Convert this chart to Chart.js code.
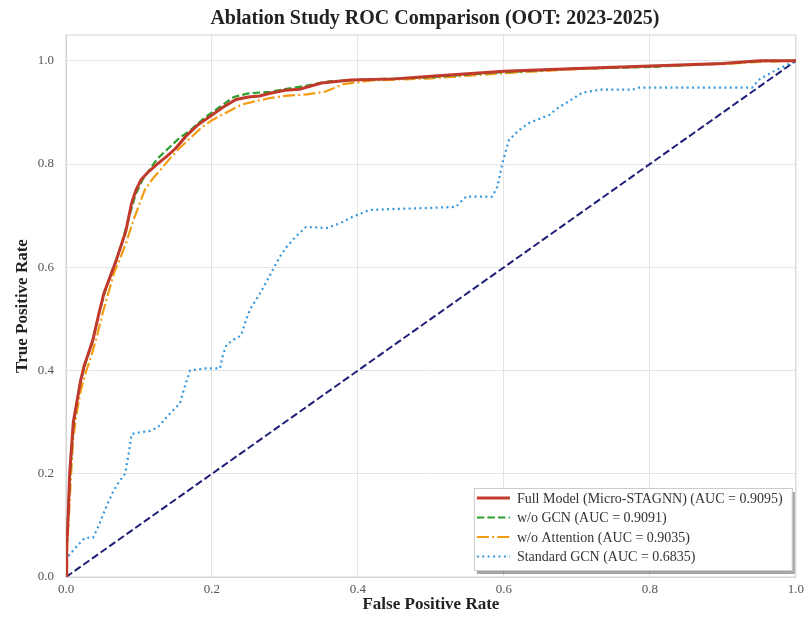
<!DOCTYPE html>
<html>
<head>
<meta charset="utf-8">
<script src="https://cdn.jsdelivr.net/npm/chart.js@4/dist/chart.umd.min.js"></script>
<style>
  html, body { margin: 0; background: #fff; }
  #wrap { width: 809px; height: 621px; }
</style>
</head>
<body>
<div id="wrap"><canvas id="rocChart"></canvas></div>
<script>
  // ROC curves
  const fullFpr = [0, 0.001, 0.003, 0.005, 0.008, 0.01, 0.015, 0.02, 0.025, 0.03, 0.037, 0.045, 0.052, 0.06, 0.068, 0.075, 0.082, 0.09, 0.096, 0.103, 0.113, 0.125, 0.138, 0.15, 0.165, 0.18, 0.2, 0.215, 0.233, 0.25, 0.265, 0.28, 0.3, 0.32, 0.35, 0.39, 0.45, 0.5, 0.55, 0.6, 0.7, 0.8, 0.9, 0.95, 1];
  const fullTpr = [0, 0.06, 0.12, 0.2, 0.26, 0.3, 0.34, 0.38, 0.41, 0.43, 0.46, 0.51, 0.55, 0.58, 0.61, 0.64, 0.67, 0.725, 0.75, 0.77, 0.785, 0.8, 0.815, 0.83, 0.855, 0.875, 0.895, 0.91, 0.925, 0.93, 0.932, 0.937, 0.943, 0.945, 0.957, 0.963, 0.965, 0.97, 0.975, 0.98, 0.985, 0.99, 0.995, 1, 1];

  const noGcnFpr = [0, 0.001, 0.003, 0.006, 0.01, 0.015, 0.02, 0.028, 0.035, 0.045, 0.055, 0.065, 0.075, 0.085, 0.095, 0.105, 0.115, 0.125, 0.14, 0.155, 0.17, 0.19, 0.21, 0.23, 0.25, 0.28, 0.3, 0.33, 0.36, 0.4, 0.5, 0.6, 0.7, 0.8, 0.9, 0.96, 1];
  const noGcnTpr = [0, 0.05, 0.13, 0.21, 0.29, 0.34, 0.38, 0.42, 0.45, 0.51, 0.56, 0.6, 0.64, 0.69, 0.74, 0.77, 0.79, 0.81, 0.83, 0.85, 0.865, 0.89, 0.91, 0.93, 0.937, 0.94, 0.945, 0.952, 0.96, 0.963, 0.968, 0.978, 0.985, 0.988, 0.995, 1, 1];

  const noAttFpr = [0, 0.001, 0.004, 0.007, 0.01, 0.015, 0.02, 0.028, 0.035, 0.043, 0.05, 0.058, 0.066, 0.075, 0.083, 0.092, 0.1, 0.108, 0.118, 0.13, 0.142, 0.155, 0.17, 0.185, 0.2, 0.22, 0.24, 0.26, 0.28, 0.3, 0.33, 0.355, 0.38, 0.42, 0.5, 0.6, 0.7, 0.8, 0.9, 0.95, 1];
  const noAttTpr = [0, 0.04, 0.12, 0.2, 0.27, 0.32, 0.36, 0.4, 0.43, 0.47, 0.51, 0.55, 0.59, 0.62, 0.65, 0.69, 0.72, 0.75, 0.77, 0.79, 0.81, 0.83, 0.85, 0.87, 0.885, 0.9, 0.915, 0.922, 0.928, 0.932, 0.935, 0.94, 0.955, 0.962, 0.966, 0.976, 0.984, 0.989, 0.994, 0.998, 1];

  const stdGcnFpr = [0, 0.001, 0.015, 0.026, 0.037, 0.045, 0.051, 0.058, 0.065, 0.073, 0.081, 0.086, 0.09, 0.1, 0.115, 0.126, 0.135, 0.142, 0.156, 0.163, 0.17, 0.19, 0.211, 0.215, 0.22, 0.23, 0.24, 0.247, 0.254, 0.264, 0.274, 0.285, 0.295, 0.302, 0.315, 0.329, 0.345, 0.357, 0.375, 0.393, 0.416, 0.45, 0.5, 0.534, 0.548, 0.584, 0.591, 0.598, 0.607, 0.62, 0.635, 0.662, 0.675, 0.685, 0.707, 0.731, 0.776, 0.785, 0.94, 0.949, 0.97, 1];
  const stdGcnTpr = [0, 0.037, 0.06, 0.076, 0.076, 0.1, 0.122, 0.145, 0.167, 0.185, 0.2, 0.24, 0.277, 0.28, 0.283, 0.29, 0.305, 0.316, 0.336, 0.37, 0.4, 0.404, 0.404, 0.43, 0.45, 0.46, 0.468, 0.5, 0.523, 0.545, 0.57, 0.6, 0.625, 0.639, 0.66, 0.678, 0.677, 0.676, 0.685, 0.698, 0.711, 0.713, 0.715, 0.717, 0.737, 0.737, 0.756, 0.802, 0.847, 0.865, 0.88, 0.895, 0.91, 0.918, 0.938, 0.944, 0.944, 0.948, 0.948, 0.963, 0.98, 1];

  const chanceFpr = [0, 1];
  const chanceTpr = [0, 1];

  const seriesLabels = [
    'Full Model (Micro-STAGNN) (AUC = 0.9095)',
    'w/o GCN (AUC = 0.9091)',
    'w/o Attention (AUC = 0.9035)',
    'Standard GCN (AUC = 0.6835)'
  ];
  const axisTicks = [0, 0.2, 0.4, 0.6, 0.8, 1.0];
  const chartTitle = 'Ablation Study ROC Comparison (OOT: 2023-2025)';

  const pts = (xs, ys) => xs.map((x, i) => ({ x: x, y: ys[i] }));
  const serif = '"Liberation Serif", "Times New Roman", serif';

  // title centred over the plot area, like matplotlib's ax.set_title
  const axTitle = {
    id: 'axTitle',
    afterDraw(chart) {
      const ctx = chart.ctx, a = chart.chartArea;
      ctx.save();
      ctx.font = 'bold 20px ' + serif;
      ctx.fillStyle = '#222';
      ctx.textAlign = 'center';
      ctx.textBaseline = 'middle';
      ctx.fillText(chartTitle, (a.left + a.right) / 2 + 4, 19);
      ctx.restore();
    }
  };

  // matplotlib-like legend box inside the plot, lower right
  const insideLegend = {
    id: 'insideLegend',
    afterDatasetsDraw(chart) {
      const ctx = chart.ctx, a = chart.chartArea;
      const items = chart.data.datasets.filter(d => d.label);
      const w = 318, h = 82;
      const x = a.right - 4 - w, y = a.bottom - 7 - h;
      ctx.save();
      ctx.fillStyle = 'rgba(0,0,0,0.35)';
      ctx.fillRect(x + 3, y + 4, w, h);
      ctx.fillStyle = '#fff';
      ctx.fillRect(x, y, w, h);
      ctx.strokeStyle = '#cccccc';
      ctx.lineWidth = 1;
      ctx.strokeRect(x + 0.5, y + 0.5, w, h);
      ctx.font = '14px ' + serif;
      ctx.textBaseline = 'middle';
      items.forEach((d, i) => {
        const cy = y + 10 + i * 19.5;
        ctx.beginPath();
        ctx.setLineDash(d.borderDash || []);
        ctx.strokeStyle = d.borderColor;
        ctx.lineWidth = d.borderWidth;
        ctx.moveTo(x + 3, cy);
        ctx.lineTo(x + 36, cy);
        ctx.stroke();
        ctx.setLineDash([]);
        ctx.fillStyle = '#333';
        ctx.fillText(d.label, x + 43, cy + 1);
      });
      ctx.restore();
    }
  };

  // full frame around the plot area
  const frame = {
    id: 'frame',
    beforeDatasetsDraw(chart) {
      const ctx = chart.ctx, a = chart.chartArea;
      ctx.save();
      ctx.strokeStyle = '#d4d4d4';
      ctx.lineWidth = 1;
      ctx.strokeRect(a.left, a.top, a.right - a.left, a.bottom - a.top);
      ctx.restore();
    }
  };

  new Chart(document.getElementById('rocChart'), {
    type: 'line',
    data: {
      datasets: [
        {
          label: seriesLabels[0],
          data: pts(fullFpr, fullTpr),
          borderColor: '#c0392b',
          borderWidth: 3
        },
        {
          label: seriesLabels[1],
          data: pts(noGcnFpr, noGcnTpr),
          borderColor: '#2ca02c',
          borderWidth: 2.2,
          borderDash: [7.4, 3.2]
        },
        {
          label: seriesLabels[2],
          data: pts(noAttFpr, noAttTpr),
          borderColor: '#f39c12',
          borderWidth: 2.2,
          borderDash: [12, 3.2, 2, 3.2]
        },
        {
          label: seriesLabels[3],
          data: pts(stdGcnFpr, stdGcnTpr),
          borderColor: '#3498db',
          borderWidth: 2.2,
          borderDash: [2, 3.4]
        },
        {
          label: '',
          data: pts(chanceFpr, chanceTpr),
          borderColor: '#1f1f7a',
          borderWidth: 2,
          borderDash: [7.4, 3.2]
        }
      ]
    },
    options: {
      responsive: true,
      maintainAspectRatio: false,
      animation: false,
      devicePixelRatio: 1,
      layout: { padding: { left: 0, right: 12, top: 35, bottom: 0 } },
      elements: { point: { radius: 0 }, line: { tension: 0, fill: false } },
      plugins: {
        legend: { display: false },
        tooltip: { enabled: false },
        title: { display: false }
      },
      scales: {
        x: {
          type: 'linear',
          min: 0,
          max: 1,
          afterBuildTicks: s => { s.ticks = axisTicks.map(v => ({ value: v })); },
          afterFit: s => { s.height = 44; },
          grid: { color: '#e4e4e4', drawTicks: false },
          border: { color: '#d4d4d4' },
          ticks: {
            padding: 5,
            color: '#555',
            font: { family: serif, size: 13 },
            callback: v => v.toFixed(1)
          },
          title: {
            display: true,
            text: 'False Positive Rate',
            color: '#222',
            font: { family: serif, size: 17, weight: 'bold' },
            padding: { top: 0, bottom: 6 }
          }
        },
        y: {
          min: 0,
          max: 1.05,
          afterBuildTicks: s => { s.ticks = axisTicks.map(v => ({ value: v })); },
          afterFit: s => { s.width = 66; },
          grid: { color: '#e4e4e4', drawTicks: false },
          border: { color: '#d4d4d4' },
          ticks: {
            padding: 12,
            color: '#555',
            font: { family: serif, size: 13 },
            callback: v => v.toFixed(1)
          },
          title: {
            display: true,
            text: 'True Positive Rate',
            color: '#222',
            font: { family: serif, size: 17, weight: 'bold' },
            padding: { top: 12, bottom: 0 }
          }
        }
      }
    },
    plugins: [frame, insideLegend, axTitle]
  });
</script>
</body>
</html>
